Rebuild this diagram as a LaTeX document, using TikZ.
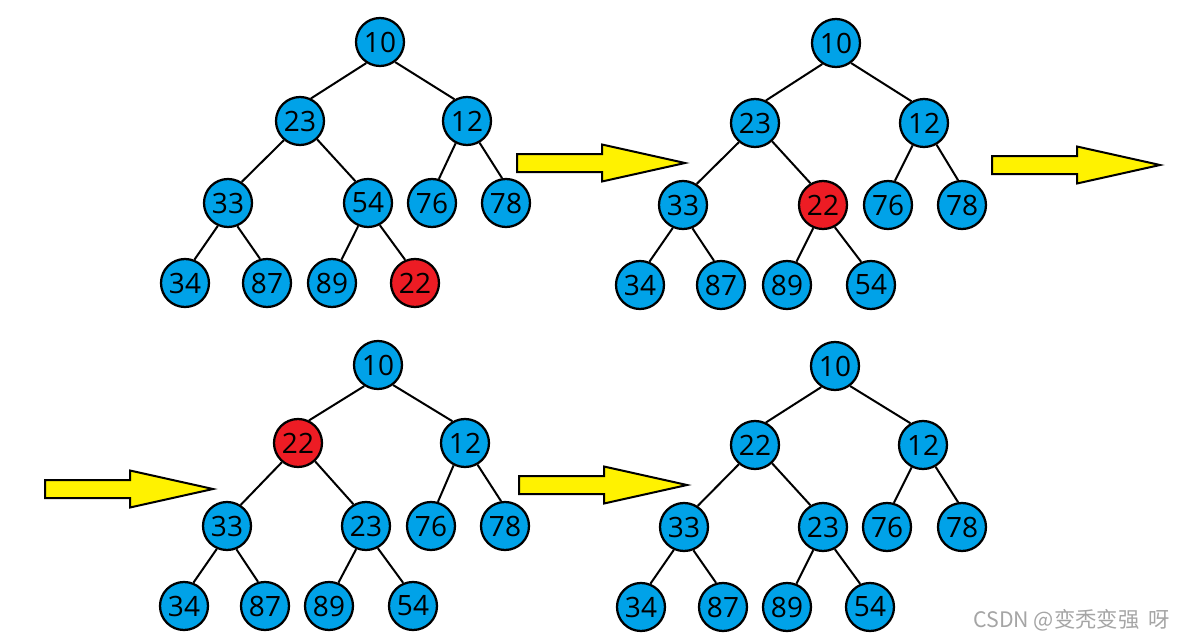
\documentclass[tikz,border=0pt]{standalone}
\usepackage{fontspec}
\setmainfont{Open Sans}
\newfontfamily\cjk{Noto Sans CJK SC}
\usepackage{tikz}
\usetikzlibrary{calc}
\usepackage{xcolor}
\definecolor{paintblue}{RGB}{0,162,232}
\definecolor{paintred}{RGB}{237,28,36}
\definecolor{paintyellow}{RGB}{255,242,0}
\definecolor{markgray}{RGB}{165,165,165}
\newcommand{\colorkey}{paintblue}
\newcommand{\colormoving}{paintred}
\newcommand{\sizekey}{36pt}
% fat step arrow, drawn from the middle of its tail
\newcommand{\steparrow}[1]{
    \draw[steparrow] (#1) ++(0,-9) -- ++(85,0) -- ++(0,-9.5) -- ++(83,18.5)
        -- ++(-83,18.5) -- ++(0,-9.5) -- ++(-85,0) -- cycle;
}
% the ten edges of one heap, bottom of parent to top of child
\newcommand{\heapedges}[1]{
    \draw[edge] (#1-root.237) -- (#1-l.64) (#1-root.307) -- (#1-r.120)
        (#1-l.230) -- (#1-ll.57) (#1-l.313) -- (#1-lr.120)
        (#1-r.243) -- (#1-rl.74) (#1-r.300) -- (#1-rr.99)
        (#1-ll.246) -- (#1-lll.68) (#1-ll.292) -- (#1-llr.106)
        (#1-lr.247) -- (#1-lrl.68) (#1-lr.298) -- (#1-lrr.113);
}
\tikzset{
    key/.style={draw, circle, line width=1.7pt, fill=\colorkey, inner sep=0pt,
        minimum size=\sizekey, font=\fontsize{21}{21}\selectfont},
    moving/.style={fill=\colormoving},
    edge/.style={line width=1.5pt},
    steparrow/.style={draw, line width=1.5pt, fill=paintyellow, line join=miter},
}
\begin{document}
\begin{tikzpicture}[x=0.75pt, y=-0.75pt]
            \useasboundingbox (0,0) rectangle (1189,639);

            \path (380,42) node[key] (s1-root) {10}
                +(-80,79) node[key] (s1-l) {23}
                +(87,79) node[key] (s1-r) {12}
                +(-152,161) node[key] (s1-ll) {33}
                +(-12,161) node[key] (s1-lr) {54}
                +(52,161) node[key] (s1-rl) {76}
                +(126,161) node[key] (s1-rr) {78}
                +(-195,241) node[key] (s1-lll) {34}
                +(-113,241) node[key] (s1-llr) {87}
                +(-48,241) node[key] (s1-lrl) {89}
                +(35,241) node[key, moving] (s1-lrr) {22};
            \heapedges{s1}

            \path (836,43) node[key] (s2-root) {10}
                +(-81,80) node[key] (s2-l) {23}
                +(88,80) node[key] (s2-r) {12}
                +(-153,162) node[key] (s2-ll) {33}
                +(-13,162) node[key, moving] (s2-lr) {22}
                +(52,162) node[key] (s2-rl) {76}
                +(126,162) node[key] (s2-rr) {78}
                +(-196,242) node[key] (s2-lll) {34}
                +(-115,242) node[key] (s2-llr) {87}
                +(-49,242) node[key] (s2-lrl) {89}
                +(35,242) node[key] (s2-lrr) {54};
            \heapedges{s2}

            \path (378,365) node[key] (s3-root) {10}
                +(-80,78) node[key, moving] (s3-l) {22}
                +(87,78) node[key] (s3-r) {12}
                +(-151,161) node[key] (s3-ll) {33}
                +(-12,161) node[key] (s3-lr) {23}
                +(53,161) node[key] (s3-rl) {76}
                +(127,161) node[key] (s3-rr) {78}
                +(-194,241) node[key] (s3-lll) {34}
                +(-113,241) node[key] (s3-llr) {87}
                +(-49,241) node[key] (s3-lrl) {89}
                +(35,241) node[key] (s3-lrr) {54};
            \heapedges{s3}

            \path (835,366) node[key] (s4-root) {10}
                +(-80,79) node[key] (s4-l) {22}
                +(88,79) node[key] (s4-r) {12}
                +(-151,161) node[key] (s4-ll) {33}
                +(-12,161) node[key] (s4-lr) {23}
                +(52,161) node[key] (s4-rl) {76}
                +(127,161) node[key] (s4-rr) {78}
                +(-194,241) node[key] (s4-lll) {34}
                +(-112,241) node[key] (s4-llr) {87}
                +(-48,241) node[key] (s4-lrl) {89}
                +(35,241) node[key] (s4-lrr) {54};
            \heapedges{s4}

            \coordinate (step-1) at (517,163);
            \coordinate (step-2) at (992,165);
            \coordinate (step-3) at (45,489);
            \coordinate (step-4) at (519,485);
            \steparrow{step-1}
            \steparrow{step-2}
            \steparrow{step-3}
            \steparrow{step-4}

            \node[anchor=east, text=markgray, font=\cjk\fontsize{16}{16}\selectfont] (watermark) at (1175,620) {CSDN @变秃变强\ \ 呀};
          \end{tikzpicture}
\end{document}
